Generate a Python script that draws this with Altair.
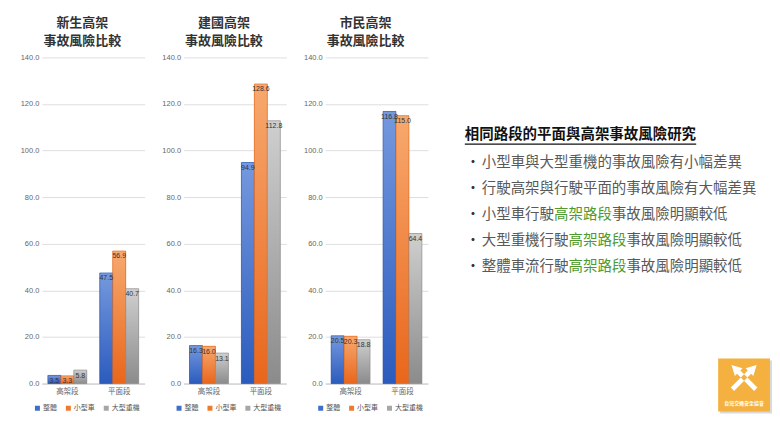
import altair as alt
import pandas as pd

# ---------------- data ----------------
panel_names = ["新生高架", "建國高架", "市民高架"]
panel_subtitle = "事故風險比較"
sections = ["高架段", "平面段"]
series = ["整體", "小型車", "大型重機"]

xinsheng_elevated = [3.5, 3.3, 5.8]
xinsheng_surface = [47.5, 56.9, 40.7]
jianguo_elevated = [16.3, 16.0, 13.1]
jianguo_surface = [94.9, 128.6, 112.8]
shimin_elevated = [20.5, 20.3, 18.8]
shimin_surface = [116.8, 115.0, 64.4]

y_ticks = [0, 20, 40, 60, 80, 100, 120, 140]

headline = "相同路段的平面與高架事故風險研究"
bullet_lines = [
    [("小型車與大型重機的事故風險有小幅差異", "n")],
    [("行駛高架與行駛平面的事故風險有大幅差異", "n")],
    [("小型車行駛", "n"), ("高架路段", "g"), ("事故風險明顯較低", "n")],
    [("大型重機行駛", "n"), ("高架路段", "g"), ("事故風險明顯較低", "n")],
    [("整體車流行駛", "n"), ("高架路段", "g"), ("事故風險明顯較低", "n")],
]
logo_name = "台灣交通安全協會"

# ---------------- styles ----------------
CJK = "Noto Sans CJK TC"
NUM = "Liberation Sans"
PW, PH = 103, 327
solid_colors = ["#3d6fcc", "#f07a2c", "#a6a6a6"]
grad_stops = [("#7599de", "#2b5bbd"), ("#f7a96f", "#e9661b"), ("#cfcfcf", "#8b8b8b")]
edge_colors = ["#2a55b0", "#e26315", "#8a8a8a"]


def bar_panel(name, elev, surf):
    rows = []
    for seg, vals in zip(sections, [elev, surf]):
        for s, v in zip(series, vals):
            rows.append({"seg": seg, "ser": s, "val": v})
    df = pd.DataFrame(rows)
    base = alt.Chart(df).encode(
        x=alt.X("seg:N", sort=sections,
                scale=alt.Scale(domain=sections, paddingInner=0.25, paddingOuter=0.115),
                axis=alt.Axis(title=None, labelAngle=0, ticks=False, domainColor="#c8c8c8",
                              labelColor="#666666", labelFontSize=7.5, labelFont=CJK,
                              labelPadding=4, grid=False)),
        xOffset=alt.XOffset("ser:N", sort=series,
                            scale=alt.Scale(domain=series, paddingInner=0, paddingOuter=0)),
        y=alt.Y("val:Q", stack=None, scale=alt.Scale(domain=[0, 140], nice=False),
                axis=alt.Axis(title=None, values=y_ticks, format=".1f", ticks=False, domain=False,
                              gridColor="#dedede", labelColor="#666666", labelFontSize=7.5,
                              labelFont=NUM, labelPadding=3)),
    )
    solid = base.mark_bar().encode(
        color=alt.Color("ser:N", sort=series,
                        scale=alt.Scale(domain=series, range=solid_colors),
                        legend=alt.Legend(orient="none", legendX=-8, legendY=348,
                                          direction="horizontal", title=None,
                                          symbolType="square", symbolSize=25,
                                          symbolStrokeWidth=0,
                                          labelFontSize=7, labelFont=CJK,
                                          labelColor="#555555", columnPadding=8,
                                          labelOffset=2))
    )
    layers = [solid]
    for s, (top, bot), edge in zip(series, grad_stops, edge_colors):
        g = alt.Gradient(gradient="linear",
                         stops=[alt.GradientStop(color=top, offset=0),
                                alt.GradientStop(color=bot, offset=1)],
                         x1=0, x2=0, y1=0, y2=1)
        layers.append(base.transform_filter(alt.datum.ser == s)
                      .mark_bar(color=g, stroke=edge, strokeWidth=0.6))
    labels = base.mark_text(baseline="top", dy=1.5, fontSize=7, font=NUM,
                            color="#333333").encode(text=alt.Text("val:Q", format=".1f"))
    layers.append(labels)
    return alt.layer(*layers).properties(
        width=PW, height=PH,
        title=alt.Title([name, panel_subtitle], fontSize=13, font=CJK, fontWeight="bold",
                        color="#333333", lineHeight=18, offset=5, anchor="middle", dx=-11))


p1 = bar_panel(panel_names[0], xinsheng_elevated, xinsheng_surface)
p2 = bar_panel(panel_names[1], jianguo_elevated, jianguo_surface)
p3 = bar_panel(panel_names[2], shimin_elevated, shimin_surface)

# ---------------- text panel ----------------
TW, TH = 326, 358
FS = 14.5
HX, HY = 20, 78           # headline anchor
BX, TX = 21, 37           # bullet / bullet-text left
ROW0, ROWSTEP = 106, 26

trows = []
for i, line in enumerate(bullet_lines):
    yy = ROW0 + ROWSTEP * i
    trows.append({"x": BX, "y": yy, "t": "•", "k": "b"})
    col = 0
    for txt, kind in line:
        trows.append({"x": TX + col * FS, "y": yy, "t": txt, "k": kind})
        col += len(txt)
tdf = pd.DataFrame(trows)
hdf = pd.DataFrame([{"x": HX, "y": HY, "t": headline, "x2": HX + len(headline) * FS, "yu": HY + 9}])

xs = alt.Scale(domain=[0, TW], nice=False, zero=False)
ys = alt.Scale(domain=[0, TH], nice=False, zero=False, reverse=True)

body = alt.Chart(tdf).mark_text(align="left", baseline="middle", fontSize=FS, font=CJK).encode(
    x=alt.X("x:Q", scale=xs, axis=None),
    y=alt.Y("y:Q", scale=ys, axis=None),
    text="t:N",
    color=alt.Color("k:N", scale=alt.Scale(domain=["n", "g", "b"],
                                           range=["#595959", "#4e9a2c", "#333333"]), legend=None),
)
head = alt.Chart(hdf).mark_text(align="left", baseline="middle", fontSize=FS, font=CJK,
                                fontWeight="bold", color="#111111").encode(
    x=alt.X("x:Q", scale=xs, axis=None), y=alt.Y("y:Q", scale=ys, axis=None), text="t:N")
underline = alt.Chart(hdf).mark_rule(color="#111111", strokeWidth=1.2).encode(
    x=alt.X("x:Q", scale=xs, axis=None), x2="x2:Q", y=alt.Y("yu:Q", scale=ys, axis=None))

# logo
ldf = pd.DataFrame([{"x": 274, "x2": 326, "y": 302, "y2": 355, "cx": 300, "cy": 321,
                     "ty": 347, "name": logo_name}])
shadow = alt.Chart(ldf).mark_rect(color="#d9d9d9").encode(
    x=alt.X("sx:Q", scale=xs, axis=None), x2="sx2:Q",
    y=alt.Y("sy:Q", scale=ys, axis=None), y2="sy2:Q").transform_calculate(
    sx="datum.x + 2", sx2="datum.x2 + 2", sy="datum.y + 2", sy2="datum.y2 + 2")
box = alt.Chart(ldf).mark_rect(color="#f4b13f").encode(
    x=alt.X("x:Q", scale=xs, axis=None), x2="x2:Q",
    y=alt.Y("y:Q", scale=ys, axis=None), y2="y2:Q")
arrow_path = ("M-0.742,0.558L0.208,-0.392L0.088,-0.512L0.7,-0.7L0.512,-0.088L0.392,-0.208L-0.558,0.742Z "
              "M0.742,0.558L-0.208,-0.392L-0.088,-0.512L-0.7,-0.7L-0.512,-0.088L-0.392,-0.208L0.558,0.742Z")
arrows = alt.Chart(ldf).mark_point(shape=arrow_path, filled=True, color="white", opacity=1,
                                   size=1300, strokeWidth=0).encode(
    x=alt.X("cx:Q", scale=xs, axis=None), y=alt.Y("cy:Q", scale=ys, axis=None))
logo_txt = alt.Chart(ldf).mark_text(fontSize=5, font=CJK, color="white", fontWeight="bold").encode(
    x=alt.X("cx:Q", scale=xs, axis=None), y=alt.Y("ty:Q", scale=ys, axis=None), text="name:N")

text_panel = alt.layer(body, head, underline, shadow, box, arrows, logo_txt).properties(
    width=TW, height=TH)

chart = alt.hconcat(p1, p2, p3, text_panel, spacing=17).resolve_scale(
    color="independent").configure(
    padding={"left": 12, "top": 9, "right": 0, "bottom": 5}, background="white",
    font=CJK).configure_view(stroke=None)

chart.save("out.html", embed_options={"renderer": "svg", "actions": False})
